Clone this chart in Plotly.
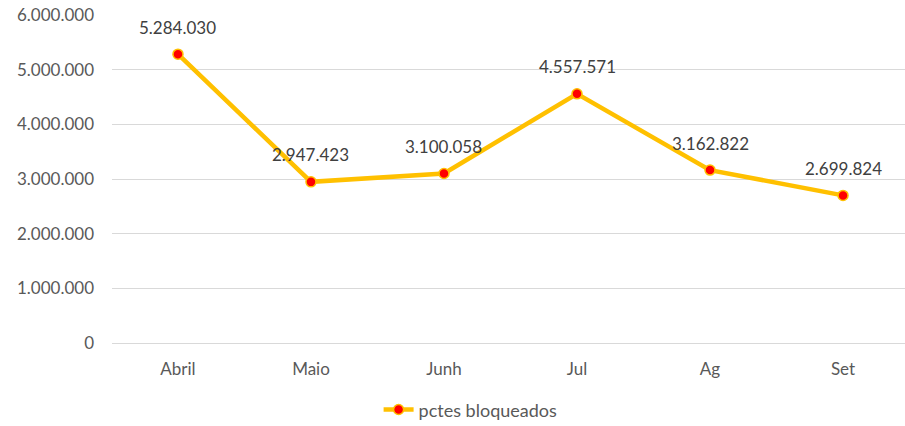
import plotly.graph_objects as go

meses = ['Abril', 'Maio', 'Junh', 'Jul', 'Ag', 'Set']
pctes_bloqueados = [5284030, 2947423, 3100058, 4557571, 3162822, 2699824]
y_ticks = [0, 1000000, 2000000, 3000000, 4000000, 5000000, 6000000]

fonte = 'Lato, Open Sans, sans-serif'

fig = go.Figure()

fig.add_trace(go.Scatter(
    x=meses,
    y=pctes_bloqueados,
    mode='lines+markers',
    name='pctes bloqueados',
    line=dict(color='#FFC000', width=4.5),
    marker=dict(color='#FF0000', size=10, line=dict(color='#FFC000', width=1.5)),
    cliponaxis=False
))

# rótulos de dados acima dos pontos
for mes, valor in zip(meses, pctes_bloqueados):
    fig.add_annotation(
        x=mes, y=valor,
        text=f"{valor:,}".replace(',', '.'),
        showarrow=False,
        yshift=27,
        font=dict(family=fonte, size=17, color='#404040')
    )

fig.update_layout(
    width=905,
    height=426,
    margin=dict(l=112, r=0, t=15, b=83),
    paper_bgcolor='white',
    plot_bgcolor='white',
    separators=',.',
    font=dict(family=fonte, size=17, color='#595959'),
    showlegend=True,
    legend=dict(
        orientation='h',
        xref='container', yref='container',
        x=0.52, xanchor='center',
        y=0.038, yanchor='middle',
        font=dict(size=18, color='#595959')
    ),
    xaxis=dict(
        range=[-0.496, 5.466],
        showgrid=False,
        showline=False,
        ticks='',
        ticklabelstandoff=14
    ),
    yaxis=dict(
        range=[0, 6000000],
        tickvals=y_ticks,
        tickformat=',d',
        gridcolor='#D9D9D9',
        gridwidth=1.3,
        zeroline=True,
        zerolinecolor='#D9D9D9',
        zerolinewidth=1.3,
        showline=False,
        ticks='',
        ticklabelstandoff=17
    )
)

fig.write_html(
    "out.html",
    config={'displayModeBar': False},
    post_script="document.body.style.margin='0';document.body.style.overflow='hidden';"
)
